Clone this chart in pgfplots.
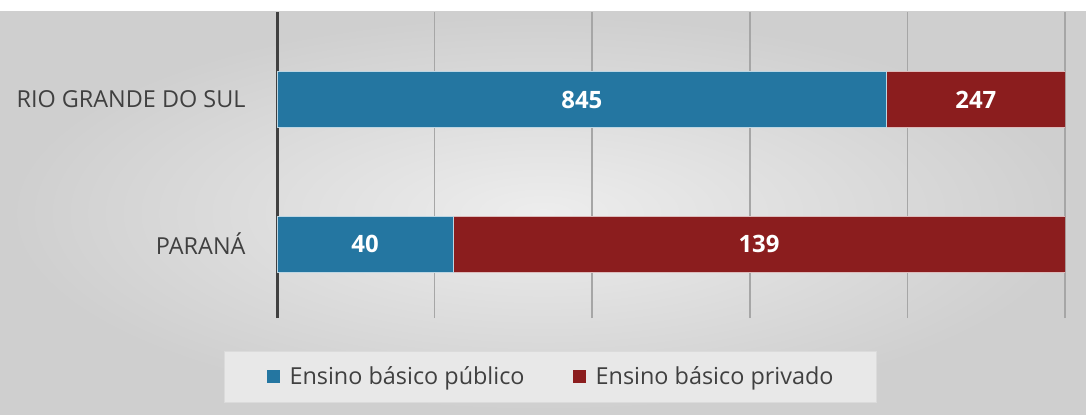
\documentclass[border=0pt]{standalone}
\usepackage{pgfplots}
\pgfplotsset{compat=1.18}
\usepackage{fontspec}
\setmainfont{Open Sans}
\definecolor{pub}{HTML}{2476A1}
\definecolor{priv}{HTML}{8B1D1E}
\definecolor{txt}{HTML}{404040}
\begin{document}
\begin{tikzpicture}[x=1bp,y=1bp]
\useasboundingbox (0,0) rectangle (1086,414);
\fill[white] (0,0) rectangle (1086,414);
\shade[inner color=black!7, outer color=black!19] (0,0) rectangle (1086,402);
\begin{axis}[
  at={(277bp,96bp)}, anchor=south west,
  scale only axis, width=788bp, height=306bp,
  xbar stacked, bar width=56bp,
  xmin=0, xmax=100, ymin=-0.512, ymax=1.606,
  xtick={0,20,40,60,80,100}, xticklabels={},
  xmajorgrids, grid style={draw=black!35, line width=1.5bp},
  ytick={0,1}, yticklabels={PARANÁ,RIO GRANDE DO SUL},
  yticklabel style={font=\fontsize{23.5}{26}\selectfont, text=txt, xshift=-28bp},
  major tick length=0pt,
  axis lines*=left,
  axis line style={-},
  x axis line style={draw=none},
  y axis line style={draw=black!75, line width=3bp},
  point meta=explicit symbolic,
  nodes near coords,
  every node near coord/.append style={font=\bfseries\fontsize{24}{26}\selectfont, text=white, anchor=center},
  legend columns=2,
  legend style={at={(0.3465,-0.1912)}, anchor=center, fill=black!9, draw=black!14,
    inner xsep=42.5bp, inner ysep=16bp, font=\fontsize{23.5}{26}\selectfont, text=txt,
    nodes={inner sep=0pt},
    /tikz/every odd column/.append style={column sep=10bp},
    /tikz/every even column/.append style={column sep=48bp}},
  legend image code/.code={\fill[#1, draw=none] (0bp,-6.5bp) rectangle (13bp,6.5bp);},
]
\addplot[fill=pub, draw=white!70!pub, line width=0.8bp] coordinates {(77.381,1) [845] (22.346,0) [40]};
\addplot[fill=priv, draw=white!70!priv, line width=0.8bp] coordinates {(22.619,1) [247] (77.654,0) [139]};
\legend{Ensino básico público, Ensino básico privado}
\end{axis}
\end{tikzpicture}
\end{document}
